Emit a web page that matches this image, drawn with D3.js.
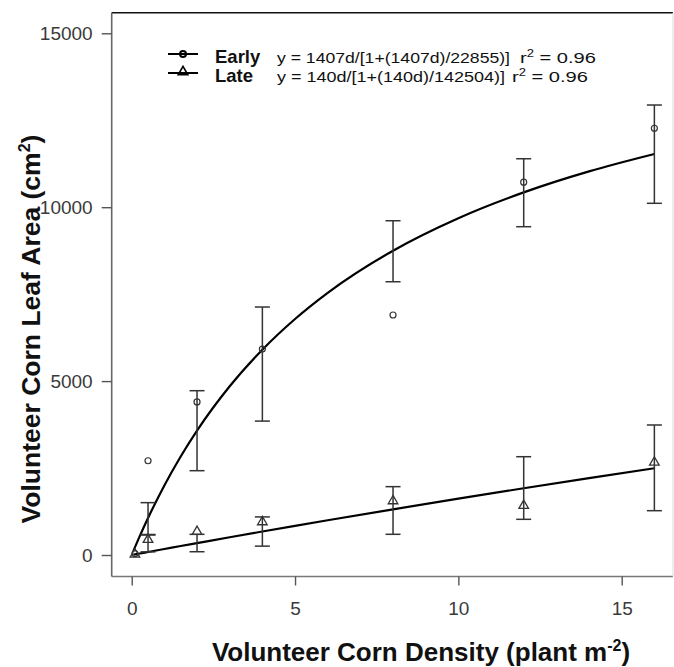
<!DOCTYPE html>
<html>
<head>
<meta charset="utf-8">
<script src="https://cdn.jsdelivr.net/npm/d3@7"></script>
<style>
  html, body { margin: 0; padding: 0; background: #fff; }
  svg { display: block; font-family: "Liberation Sans", Arial, sans-serif; }
</style>
</head>
<body>
<svg id="chart" width="674" height="667"></svg>
<script>
// ---- data ----
const density   = [0.1, 0.5, 2, 4, 8, 12, 16];
const earlyMean = [40, 2710, 4400, 5920, 6900, 10720, 12270];
const earlyBarCenter = [223, 1040, 3574, 5490, 8734, 10416, 11525];
const earlyErr  = [0, 465, 1150, 1640, 877, 977, 1413];
const lateMean  = [20, 440, 670, 950, 1553, 1418, 2665];
const lateBarCenter = [17, 340, 344, 675, 1280, 1926, 2506];
const lateErr   = [0, 250, 250, 420, 685, 900, 1232];

// fitted curves
const curveD     = [0.05, 0.25, 0.5, 1, 1.5, 2, 3, 4, 5, 6, 8, 10, 12, 14, 16];
const earlyCurve = [112, 549, 1063, 2000, 2832, 3576, 4851, 5903, 6786, 7538, 8750, 9684, 10426, 11030, 11530];
const lateCurve  = [9, 43, 86, 172, 258, 342, 510, 675, 838, 998, 1313, 1620, 1919, 2210, 2494];

const xTicks = [0, 5, 10, 15];
const yTicks = [0, 5000, 10000, 15000];

const legendNames = ["Early", "Late"];
const legendEq = ["y = 1407d/[1+(1407d)/22855)]", "y = 140d/[1+(140d)/142504)]"];

// ---- drawing ----
const svg = d3.select("#chart");
const x = d3.scaleLinear().domain([0, 15]).range([131.7, 621.7]);
const y = d3.scaleLinear().domain([0, 15000]).range([555, 33.3]);

const box = { left: 111.7, top: 12.7, right: 673, bottom: 576.5 };

// box
svg.append("line").attr("x1", box.left).attr("x2", box.right).attr("y1", box.top).attr("y2", box.top)
  .attr("stroke", "#111").attr("stroke-width", 1.6);
svg.append("line").attr("x1", box.left).attr("x2", box.right).attr("y1", box.bottom).attr("y2", box.bottom)
  .attr("stroke", "#777").attr("stroke-width", 1.6);
svg.append("line").attr("x1", box.left).attr("x2", box.left).attr("y1", box.top).attr("y2", box.bottom)
  .attr("stroke", "#666").attr("stroke-width", 1.6);
svg.append("line").attr("x1", box.right).attr("x2", box.right).attr("y1", box.top).attr("y2", box.bottom)
  .attr("stroke", "#ddd").attr("stroke-width", 1);

// y axis
const yAxis = d3.axisLeft(y).tickValues(yTicks).tickSize(10).tickPadding(9).tickFormat(d3.format("d"));
const gy = svg.append("g").attr("transform", `translate(${box.left},0)`).call(yAxis);
gy.select(".domain").remove();
gy.selectAll(".tick line").attr("stroke", "#555").attr("stroke-width", 1.4);
gy.selectAll(".tick text").attr("font-size", 19).attr("fill", "#3a3a3a")
  .attr("font-family", "Liberation Sans, Arial, sans-serif");

// x axis
const xAxis = d3.axisBottom(x).tickValues(xTicks).tickSize(9).tickPadding(16);
const gx = svg.append("g").attr("transform", `translate(0,${box.bottom})`).call(xAxis);
gx.select(".domain").remove();
gx.selectAll(".tick line").attr("stroke", "#555").attr("stroke-width", 1.4);
gx.selectAll(".tick text").attr("font-size", 19).attr("fill", "#3a3a3a")
  .attr("font-family", "Liberation Sans, Arial, sans-serif");

// axis titles
const xt = svg.append("text").attr("x", 421).attr("y", 661).attr("text-anchor", "middle")
  .attr("font-size", 26).attr("font-weight", "bold").attr("fill", "#111");
xt.append("tspan").text("Volunteer Corn Density (plant m");
xt.append("tspan").attr("dy", -10).attr("font-size", 16).text("-2");
xt.append("tspan").attr("dy", 10).text(")");

const yt = svg.append("text").attr("transform", "translate(40,329) rotate(-90)").attr("text-anchor", "middle")
  .attr("font-size", 26.5).attr("font-weight", "bold").attr("fill", "#111");
yt.append("tspan").text("Volunteer Corn Leaf Area (cm");
yt.append("tspan").attr("dy", -10).attr("font-size", 16).text("2");
yt.append("tspan").attr("dy", 10).text(")");

// curves
const line = d3.line().x((d, i) => x(curveD[i])).y(d => y(d)).curve(d3.curveMonotoneX);
svg.append("path").attr("d", line(earlyCurve)).attr("fill", "none").attr("stroke", "#000").attr("stroke-width", 2.2);
svg.append("path").attr("d", line(lateCurve)).attr("fill", "none").attr("stroke", "#000").attr("stroke-width", 2.2);

// error bars
function bars(centers, errs) {
  const g = svg.append("g").attr("stroke", "#333").attr("stroke-width", 1.5);
  density.forEach((d, i) => {
    if (!errs[i]) return;
    const cx = x(d), y1 = y(centers[i] + errs[i]), y2 = y(centers[i] - errs[i]);
    g.append("line").attr("x1", cx).attr("x2", cx).attr("y1", y1).attr("y2", y2);
    g.append("line").attr("x1", cx - 7.5).attr("x2", cx + 7.5).attr("y1", y1).attr("y2", y1);
    g.append("line").attr("x1", cx - 7.5).attr("x2", cx + 7.5).attr("y1", y2).attr("y2", y2);
  });
}
bars(earlyBarCenter, earlyErr);
bars(lateBarCenter, lateErr);

// points
svg.append("g").selectAll("circle").data(earlyMean).join("circle")
  .attr("cx", (d, i) => x(density[i])).attr("cy", d => y(d)).attr("r", 3)
  .attr("fill", "none").attr("stroke", "#333").attr("stroke-width", 1.2);
const tri = d3.symbol().type(d3.symbolTriangle).size(40);
svg.append("g").selectAll("path").data(lateMean).join("path")
  .attr("transform", (d, i) => `translate(${x(density[i])},${y(d)})`).attr("d", tri)
  .attr("fill", "none").attr("stroke", "#333").attr("stroke-width", 1.3);

// legend
const lg = svg.append("g");
const rows = [54, 73];
const eqLen = [233, 228];
const rX = [520, 512];
rows.forEach((ry, i) => {
  lg.append("line").attr("x1", 168).attr("x2", 198).attr("y1", ry).attr("y2", ry)
    .attr("stroke", "#000").attr("stroke-width", 2);
  if (i === 0) {
    lg.append("circle").attr("cx", 183).attr("cy", ry).attr("r", 3)
      .attr("fill", "none").attr("stroke", "#000").attr("stroke-width", 2);
  } else {
    lg.append("path").attr("transform", `translate(183,${ry - 1})`).attr("d", tri)
      .attr("fill", "none").attr("stroke", "#000").attr("stroke-width", 1.6);
  }
  lg.append("text").attr("x", 215).attr("y", ry + 9).attr("font-size", 18.5)
    .attr("font-weight", "bold").attr("fill", "#111").text(legendNames[i]);
  lg.append("text").attr("x", 277).attr("y", ry + 9).attr("font-size", 15).attr("fill", "#111")
    .attr("textLength", eqLen[i]).attr("lengthAdjust", "spacingAndGlyphs").text(legendEq[i]);
  const r = lg.append("text").attr("x", rX[i]).attr("y", ry + 9).attr("font-size", 15.5).attr("fill", "#111")
    .attr("textLength", 76).attr("lengthAdjust", "spacingAndGlyphs");
  r.append("tspan").text("r");
  r.append("tspan").attr("dy", -6).attr("font-size", 10).text("2");
  r.append("tspan").attr("dy", 6).text(" = 0.96");
});
</script>
</body>
</html>
